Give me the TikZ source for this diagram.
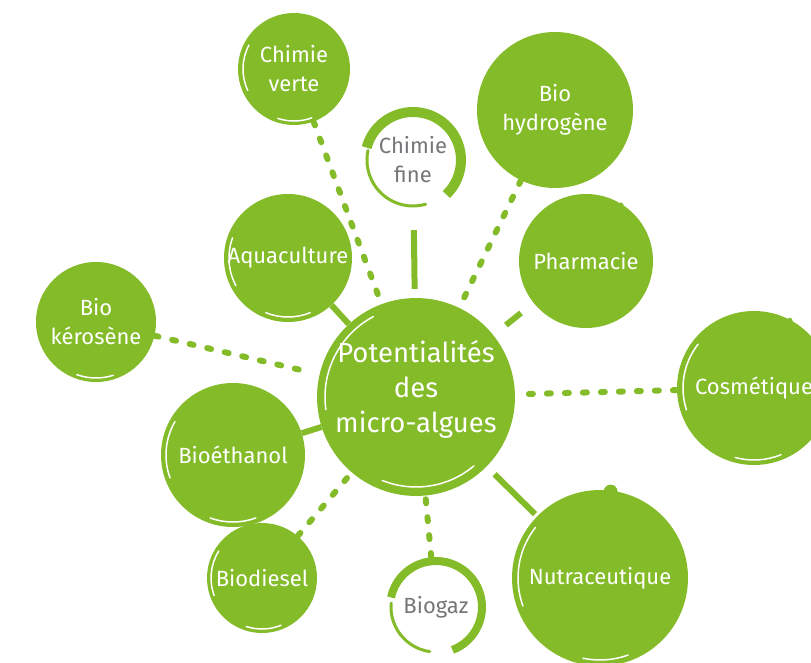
\documentclass[tikz,border=0pt]{standalone}
\usepackage{fontspec}
\setmainfont{Fira Sans}

\definecolor{algue}{RGB}{132,187,41}
\definecolor{gristexte}{RGB}{118,118,122}

\tikzset{
    bulle/.style={circle, fill=algue, text=white, inner sep=0pt, align=center,
        font=\fontsize{22}{29}\selectfont},
    anneau/.style={circle, text=gristexte, inner sep=0pt, align=center,
        font=\fontsize{22}{29}\selectfont},
    pointille/.style={algue, line width=6pt, line cap=round, dash pattern=on 4pt off 14pt},
    trait/.style={algue, line width=6pt},
    reflet/.style={white, line width=1.5pt, line cap=round},
}

% white brush stroke inside a bubble: node, radius, start angle, end angle
\newcommand{\reflet}[4]{\draw[reflet] (#1) ++(#3:#2) arc[start angle=#3, end angle=#4, radius=#2];}

\begin{document}
\begin{tikzpicture}[x=1pt,y=1pt]
    \useasboundingbox (0,0) rectangle (811,662);
    \clip (0,0) rectangle (811,662);

    % Centre
    \node[bulle, minimum size=196pt, text depth=22pt, font=\fontsize{27.5}{35}\selectfont] (c) at (416,265)
        {Potentialités\\des\\micro-algues};

    % Bubbles around the centre
    \node[bulle, minimum size=112pt] (cv) at (294,593) {Chimie\\verte};
    \node[anneau, minimum size=106pt] (cf) at (413,502) {Chimie\\fine};
    \node[bulle, minimum size=156pt] (bh) at (555,552) {Bio\\hydrogène};
    \node[bulle, minimum size=134pt] (ph) at (586,401) {Pharmacie};
    \node[bulle, minimum size=154pt] (co) at (754,274) {Cosmétique};
    \node[bulle, minimum size=176pt] (nu) at (600,84) {Nutraceutique};
    \node[anneau, minimum size=100pt] (bg) at (436,55) {Biogaz};
    \node[bulle, minimum size=110pt] (bd) at (262,84) {Biodiesel};
    \node[bulle, minimum size=144pt] (be) at (233,207) {Bioéthanol};
    \node[bulle, minimum size=120pt] (bk) at (96,340) {Bio\\kérosène};
    \node[bulle, minimum size=128pt] (aq) at (288,404) {Aquaculture};

    % Rings
    \draw[algue, line width=10pt] (cf) ++(-46:48) arc[start angle=-46, end angle=165, radius=48];
    \draw[algue, line width=3pt, line cap=round] (cf) ++(168:46) arc[start angle=168, end angle=286, radius=46];
    \draw[algue, line width=8pt] (bg) ++(-69:46) arc[start angle=-69, end angle=168, radius=46];
    \draw[algue, line width=3pt, line cap=round] (bg) ++(175:45) arc[start angle=175, end angle=262, radius=45];

    % Knobs
    \fill[algue] (nu) ++(83:87) circle (7);
    \fill[algue] (co) ++(62:76) circle (3);
    \fill[algue] (ph) ++(58:66) circle (2.5);

    % Brush strokes
    \reflet{c}{91}{118}{188}
    \reflet{c}{90}{248}{310}
    \reflet{cv}{51}{152}{205}
    \reflet{cv}{52}{252}{290}
    \reflet{aq}{59}{160}{208}
    \reflet{aq}{59}{248}{292}
    \reflet{be}{67}{150}{200}
    \reflet{be}{67}{250}{290}
    \reflet{bd}{51}{148}{200}
    \reflet{bd}{51}{252}{292}
    \reflet{bk}{56}{250}{288}
    \reflet{co}{71}{142}{198}
    \reflet{co}{72}{255}{292}
    \reflet{nu}{82}{142}{200}
    \reflet{nu}{82}{258}{290}

    % Connectors
    \draw[pointille] (cv) -- (c);
    \draw[trait, shorten <=17pt, shorten >=9pt] (cf) -- (c);
    \draw[pointille] (bh) -- (c);
    \draw[trait, shorten <=16pt, shorten >=16pt] (ph) -- (c);
    \draw[pointille] (co) -- (c);
    \draw[trait, shorten <=3pt, shorten >=11pt] (nu) -- (c);
    \draw[pointille] (bg) -- (c);
    \draw[pointille] (bd) -- (c);
    \draw[trait] (be) -- (c);
    \draw[pointille, shorten >=12pt] (bk) -- (c);
    \draw[trait] (aq) -- (c);
\end{tikzpicture}
\end{document}
